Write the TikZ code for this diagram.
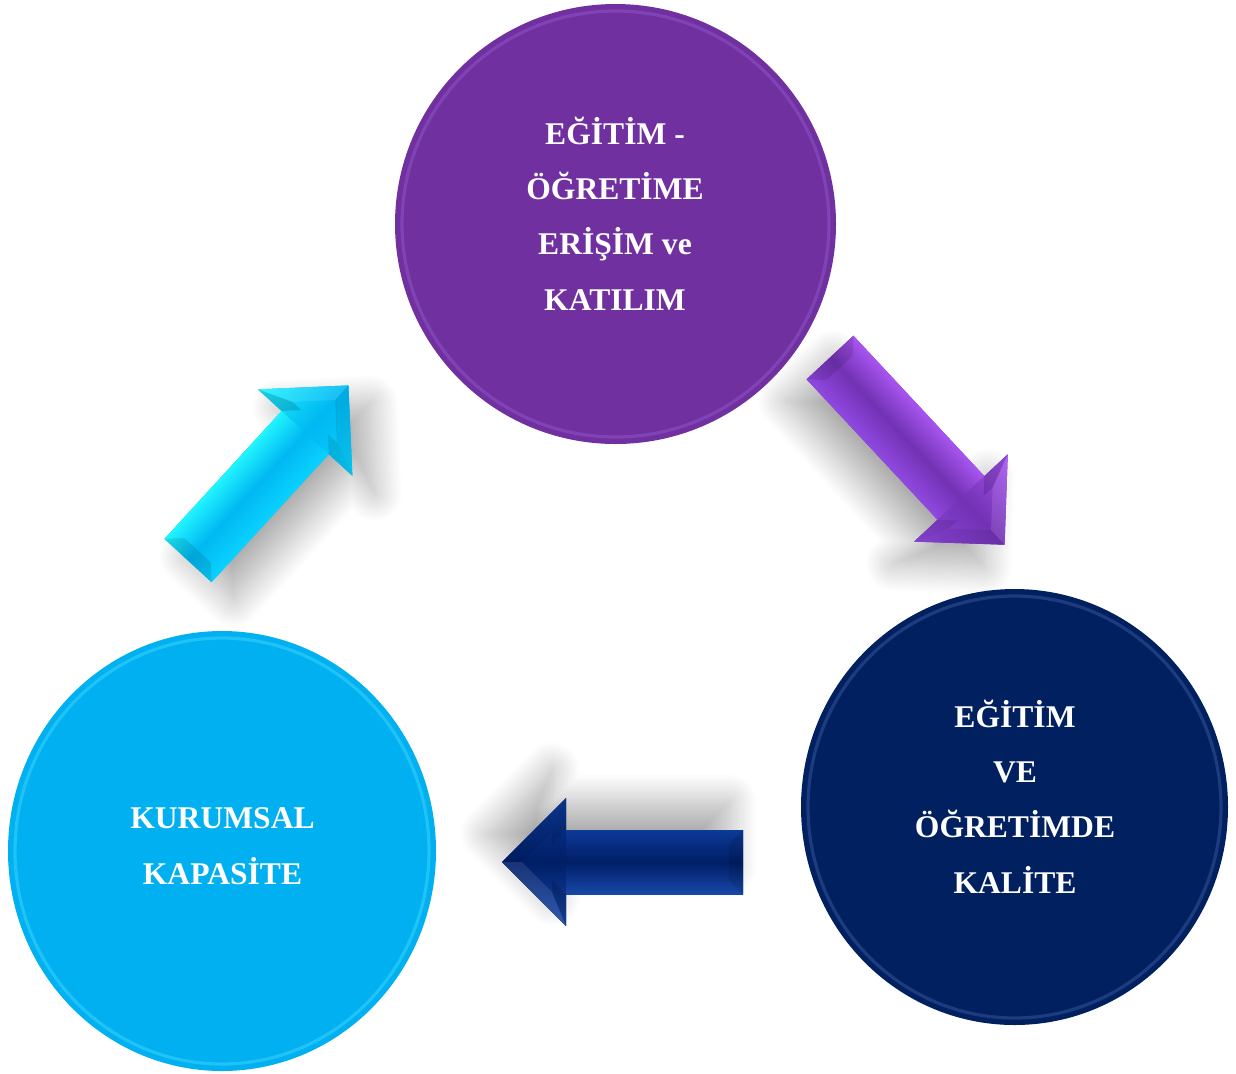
\documentclass[tikz,border=0pt]{standalone}
\usepackage{fontspec}
\setmainfont{Liberation Serif}
\usetikzlibrary{shapes.geometric,shadows.blur}
\definecolor{purp}{HTML}{7030A0}
\definecolor{navy}{HTML}{002060}
\definecolor{sky}{HTML}{00B0F0}
\definecolor{purprim}{HTML}{9A60D8}
\definecolor{navyrim}{HTML}{4A68B0}
\definecolor{skyrim}{HTML}{50E0FF}
\definecolor{cyA}{HTML}{22F4FF}
\definecolor{cyM}{HTML}{00B8F2}
\definecolor{cyB}{HTML}{0AD2FF}
\definecolor{puA}{HTML}{A855F0}
\definecolor{puM}{HTML}{7232B4}
\definecolor{puB}{HTML}{9048E0}
\definecolor{nvA}{HTML}{1848A8}
\definecolor{nvM}{HTML}{001E66}
\definecolor{nvB}{HTML}{0D3A98}
\tikzset{
  disc/.style={ellipse, inner sep=0pt, draw=none},
  rimline/.style={line width=1.6pt, opacity=0.4},
  lbl/.style={text=white, font=\fontsize{15.8}{18}\selectfont\bfseries, anchor=base, inner sep=0pt},
}
% #1 tail-centre coordinate, #2 angle, #3 length, #4 left-edge colour, #5 centre colour,
% #6 right-edge colour, #7/#8 shadow shift (local frame)
\newcommand{\bevarrow}[8]{%
\begin{scope}[transform canvas={shift={(#1)},rotate=#2}]
\begin{scope}[x=0.5pt,y=0.5pt]
\pgfmathsetmacro{\Ls}{#3-64}
\pgfmathsetmacro{\Lb}{#3-64+14}
\pgfmathsetmacro{\Lp}{#3-19.8}
\fill[#5, blur shadow={shadow xshift=#7, shadow yshift=#8, shadow blur radius=14pt,
      shadow blur steps=24, shadow opacity=32}]
  (0,32) -- (\Ls,32) -- (\Ls,64) -- (#3,0) -- (\Ls,-64) -- (\Ls,-32) -- (0,-32) -- cycle;
\shade[top color=#4, bottom color=#6, middle color=#5] (0,-32) rectangle (\Ls+1,32);
\shade[top color=#4, bottom color=#6, middle color=#5] (\Ls,64) -- (#3,0) -- (\Ls,-64) -- cycle;
\fill[black,opacity=.14] (\Ls,32) -- (\Ls,64) -- (\Lb,30.2) -- (\Lb,18) -- cycle;
\fill[black,opacity=.10] (\Ls,-32) -- (\Ls,-64) -- (\Lb,-30.2) -- (\Lb,-18) -- cycle;
\fill[white,opacity=.10] (\Ls,64) -- (#3,0) -- (\Lp,0) -- (\Lb,30.2) -- cycle;
\fill[black,opacity=.07] (\Ls,-64) -- (#3,0) -- (\Lp,0) -- (\Lb,-30.2) -- cycle;
\fill[black,opacity=.10] (0,32) -- (0,-32) -- (14,-18) -- (14,18) -- cycle;
\end{scope}
\end{scope}}
\begin{document}
\begin{tikzpicture}[x=0.5pt,y=-0.5pt]
\useasboundingbox (0,0) rectangle (1236,1073);

% arrows
\coordinate (ca) at (188,560.5);
\coordinate (pa) at (830,357.5);
\coordinate (na) at (743,862);
\bevarrow{ca}{47.5}{237.5}{cyA}{cyM}{cyB}{1pt}{-14pt}
\bevarrow{pa}{-47}{256}{puA}{puM}{puB}{1pt}{-15pt}
\bevarrow{na}{180}{241}{nvA}{nvM}{nvB}{7pt}{-14pt}

% circles
\node[disc, fill=purp, minimum width=220.5pt, minimum height=220pt] (c1) at (615.5,224) {};
\node[disc, fill=navy, minimum width=213.5pt, minimum height=218pt] (c2) at (1014.5,807) {};
\node[disc, fill=sky, minimum width=214pt, minimum height=220pt] (c3) at (222,851) {};
\draw[rimline, purprim] (c1.center) ellipse [x radius=213.5, y radius=213];
\draw[rimline, navyrim] (c2.center) ellipse [x radius=206.5, y radius=211];
\draw[rimline, skyrim] (c3.center) ellipse [x radius=207, y radius=213];
\fill[white] (0,1073) rectangle (1236,1080);

% labels
\node[lbl] (p1) at (615,144) {EĞİTİM -};
\node[lbl] (p2) at (615,199) {ÖĞRETİME};
\node[lbl] (p3) at (615,254) {ERİŞİM ve};
\node[lbl] (p4) at (615,310) {KATILIM};
\node[lbl] (n1) at (1015,727) {EĞİTİM};
\node[lbl] (n2) at (1015,782) {VE};
\node[lbl] (n3) at (1015,837) {ÖĞRETİMDE};
\node[lbl] (n4) at (1015,893) {KALİTE};
\node[lbl] (s1) at (222.5,828) {KURUMSAL};
\node[lbl] (s2) at (222.5,884) {KAPASİTE};
\end{tikzpicture}
\end{document}
